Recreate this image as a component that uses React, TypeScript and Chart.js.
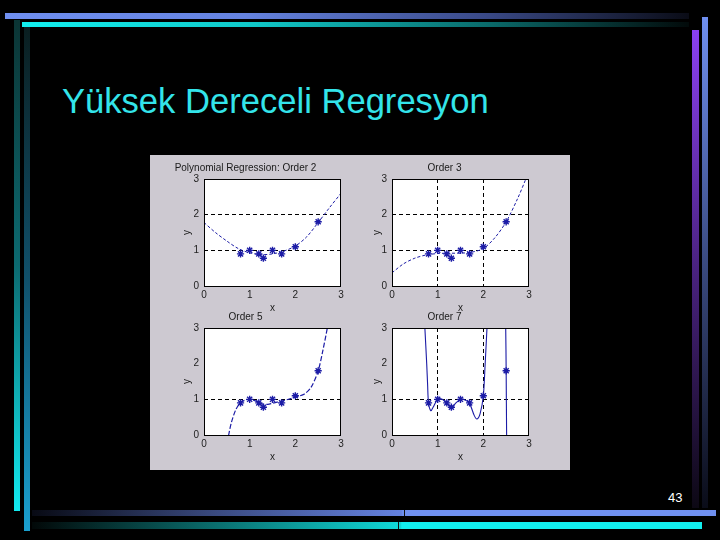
import React, { useEffect, useRef } from "react";
import { Chart, registerables } from "chart.js";

Chart.register(...registerables);

// ---- data ----
const xData = [0.8, 1.0, 1.2, 1.3, 1.5, 1.7, 2.0, 2.5];
const yData = [0.9, 1.0, 0.9, 0.78, 1.0, 0.9, 1.1, 1.8];

const fit2X = [0, 0.25, 0.5, 0.75, 1, 1.25, 1.5, 1.75, 2, 2.25, 2.5, 2.75, 3];
const fit2Y = [1.78, 1.5, 1.26, 1.05, 0.93, 0.88, 0.9, 0.98, 1.12, 1.38, 1.78, 2.2, 2.6];

const fit3X = [0, 0.25, 0.5, 0.75, 1, 1.25, 1.5, 1.75, 2, 2.25, 2.5, 2.75, 2.93, 3];
const fit3Y = [0.37, 0.62, 0.78, 0.87, 0.91, 0.92, 0.92, 0.95, 1.05, 1.35, 1.8, 2.45, 3.0, 3.25];

const fit5X = [0.45, 0.54, 0.6, 0.7, 0.8, 0.9, 1.0, 1.1, 1.2, 1.3, 1.4, 1.5, 1.7, 1.9, 2.0, 2.2, 2.35, 2.5, 2.6, 2.7, 2.75];
const fit5Y = [-0.6, 0, 0.35, 0.72, 0.9, 0.98, 1.0, 0.97, 0.91, 0.86, 0.86, 0.89, 0.95, 1.02, 1.06, 1.15, 1.35, 1.8, 2.35, 3.0, 3.4];

const fit7X = [0.7, 0.72, 0.76, 0.78, 0.8, 0.85, 0.9, 1.0, 1.1, 1.2, 1.3, 1.4, 1.5, 1.6, 1.7, 1.8, 1.86, 1.93, 2.0, 2.04, 2.08, 2.1, 2.3, 2.48, 2.49, 2.5, 2.51, 2.52];
const fit7Y: (number | null)[] = [3.6, 3.0, 2.0, 1.4, 0.9, 0.68, 0.78, 1.0, 1.0, 0.88, 0.76, 0.9, 1.0, 0.98, 0.88, 0.55, 0.45, 0.6, 1.1, 2.0, 3.0, 3.6, null, 3.6, 3.0, 1.8, 0.0, -0.6];

const tickValues = [0, 1, 2, 3];

const titles = ["Polynomial Regression: Order 2", "Order 3", "Order 5", "Order 7"];

const NAVY = "#1c1ca6";

const framePlugin = {
  id: "frame",
  beforeDraw(chart: any) {
    const { ctx, chartArea: a } = chart;
    ctx.save();
    ctx.fillStyle = "#ffffff";
    ctx.fillRect(a.left, a.top, a.right - a.left, a.bottom - a.top);
    ctx.restore();
  },
  afterDraw(chart: any) {
    const { ctx, chartArea: a } = chart;
    ctx.save();
    ctx.strokeStyle = "#000";
    ctx.lineWidth = 1;
    ctx.setLineDash([]);
    ctx.strokeRect(Math.round(a.left) + 0.5, Math.round(a.top) + 0.5, Math.round(a.right - a.left) - 1, Math.round(a.bottom - a.top));
    ctx.restore();
  },
};

type PanelProps = {
  left: number;
  top: number;
  title: string;
  cx: number[];
  cy: (number | null)[];
  dash: number[];
  lineWidth: number;
  xGrid: number[];
  yGrid: number[];
  yAxisWidth: number;
  yTitlePad: number;
  rightPad: number;
};

function Panel(p: PanelProps) {
  const ref = useRef<HTMLCanvasElement>(null);
  useEffect(() => {
    if (!ref.current) return;
    const curve = p.cx.map((x, i) => ({ x, y: p.cy[i] }));
    const pts = xData.map((x, i) => ({ x, y: yData[i] }));
    const font = { family: "'Liberation Sans', Arial, sans-serif", size: 10 };
    const chart = new Chart(ref.current, {
      type: "scatter",
      data: {
        datasets: [
          {
            data: curve as any,
            showLine: true,
            pointRadius: 0,
            borderColor: NAVY,
            borderWidth: p.lineWidth,
            borderDash: p.dash,
            tension: 0.3,
            spanGaps: false,
            clip: 0,
          } as any,
          {
            data: pts,
            showLine: false,
            pointStyle: "star",
            pointRadius: 3.6,
            borderColor: NAVY,
            backgroundColor: NAVY,
            pointBorderWidth: 1.4,
          } as any,
        ],
      },
      options: {
        animation: false,
        responsive: false,
        devicePixelRatio: 1,
        layout: { padding: { left: 0, right: p.rightPad, top: 0, bottom: 1 } },
        plugins: {
          legend: { display: false },
          tooltip: { enabled: false },
          title: {
            display: true,
            text: p.title,
            color: "#1a1a1a",
            font: { ...font, weight: "normal" },
            padding: { top: 7, bottom: 5 },
          },
        },
        scales: {
          x: {
            type: "linear",
            min: 0,
            max: 3,
            afterFit: (s: any) => {
              s.height = 28;
            },
            afterBuildTicks: (s: any) => {
              s.ticks = tickValues.map((v) => ({ value: v }));
            },
            ticks: { color: "#222", font, padding: 3, callback: (v: any) => String(v) },
            grid: {
              drawTicks: false,
              lineWidth: 1,
              color: (c: any) => (c.tick && p.xGrid.includes(c.tick.value) ? "#000" : "rgba(0,0,0,0)"),
            },
            border: { display: false, dash: [4, 3] },
            title: { display: true, text: "x", color: "#222", font, padding: { top: 0, bottom: 0 } },
          },
          y: {
            type: "linear",
            min: 0,
            max: 3,
            afterFit: (s: any) => {
              s.width = p.yAxisWidth;
            },
            afterBuildTicks: (s: any) => {
              s.ticks = tickValues.map((v) => ({ value: v }));
            },
            ticks: { color: "#222", font, padding: 5, callback: (v: any) => String(v) },
            grid: {
              drawTicks: false,
              lineWidth: 1,
              color: (c: any) => (c.tick && p.yGrid.includes(c.tick.value) ? "#000" : "rgba(0,0,0,0)"),
            },
            border: { display: false, dash: [4, 3] },
            title: { display: true, text: "y", color: "#222", font, padding: { top: p.yTitlePad, bottom: 0 } },
          },
        },
      } as any,
      plugins: [framePlugin],
    });
    return () => chart.destroy();
  }, []);
  return (
    <canvas
      ref={ref}
      width={210}
      height={160}
      style={{ position: "absolute", left: p.left, top: p.top, width: 210, height: 160 }}
    />
  );
}

const abs = (l: number, t: number, w: number, h: number, bg: string): React.CSSProperties => ({
  position: "absolute",
  left: l,
  top: t,
  width: w,
  height: h,
  background: bg,
});

export default function App() {
  return (
    <div
      style={{
        position: "fixed",
        left: 0,
        top: 0,
        width: 720,
        height: 540,
        background: "#000",
        overflow: "hidden",
        fontFamily: "'Liberation Sans', Arial, sans-serif",
      }}
    >
      {/* decorative bars */}
      <div style={abs(5, 13, 684, 6, "linear-gradient(to right, #6f8ff0 0%, #6583e0 35%, #3a4a88 70%, #0a0c16 100%)")} />
      <div style={abs(22, 22, 667, 5, "linear-gradient(to right, #12f0f0 0%, #10c8c8 35%, #0a6a6a 70%, #020a0a 100%)")} />
      <div style={abs(14, 20, 6, 491, "linear-gradient(to bottom, #0b3434 0%, #0c6a70 50%, #12eaf0 100%)")} />
      <div style={abs(24, 27, 6, 504, "linear-gradient(to bottom, #0a1e20 0%, #10506a 50%, #1aa0d0 100%)")} />
      <div style={abs(692, 30, 7, 478, "linear-gradient(to bottom, #8a40f0 0%, #4a2280 50%, #0c0814 100%)")} />
      <div style={abs(702, 17, 6, 491, "linear-gradient(to bottom, #6f8ff0 0%, #3a4a80 50%, #0a0c18 100%)")} />
      <div style={abs(32, 510, 684, 6, "linear-gradient(to right, #080a14 0%, #3a4a80 27%, #6582e0 54%, #7090f0 54.2%, #7090f0 100%)")} />
      <div style={abs(404, 510, 1, 6, "#101010")} />
      <div style={abs(32, 522, 670, 7, "linear-gradient(to right, #020808 0%, #0a7070 28%, #10d8d8 55%, #12f0f0 55.2%, #12f0f0 100%)")} />
      <div style={abs(398, 522, 1, 7, "#101010")} />

      {/* title */}
      <div
        style={{
          position: "absolute",
          left: 62,
          top: 81,
          fontSize: 34.6,
          lineHeight: "40px",
          color: "#33e4ea",
          whiteSpace: "nowrap",
        }}
      >
        Yüksek Dereceli Regresyon
      </div>

      {/* page number */}
      <div style={{ position: "absolute", left: 668, top: 490, fontSize: 13, lineHeight: "16px", color: "#fff" }}>43</div>

      {/* figure panel */}
      <div style={abs(150, 155, 420, 315, "#cdc9d1")} />
      <Panel left={150} top={155} title={titles[0]} cx={fit2X} cy={fit2Y} dash={[3, 2]} lineWidth={1} xGrid={[]} yGrid={[1, 2]} yAxisWidth={54} yTitlePad={31} rightPad={19} />
      <Panel left={360} top={155} title={titles[1]} cx={fit3X} cy={fit3Y} dash={[3, 2]} lineWidth={1} xGrid={[1, 2]} yGrid={[1, 2]} yAxisWidth={32} yTitlePad={11} rightPad={41} />
      <Panel left={150} top={304} title={titles[2]} cx={fit5X} cy={fit5Y} dash={[5, 2]} lineWidth={1.2} xGrid={[]} yGrid={[1]} yAxisWidth={54} yTitlePad={31} rightPad={19} />
      <Panel left={360} top={304} title={titles[3]} cx={fit7X} cy={fit7Y} dash={[]} lineWidth={1.1} xGrid={[1, 2]} yGrid={[1]} yAxisWidth={32} yTitlePad={11} rightPad={41} />
    </div>
  );
}
